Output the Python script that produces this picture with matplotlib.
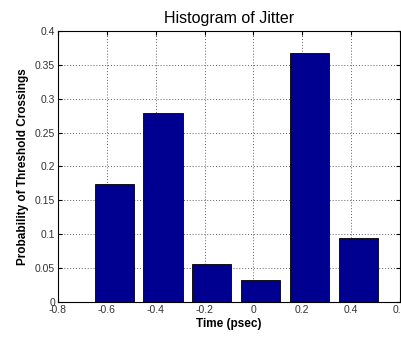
import matplotlib
matplotlib.use("Agg")
import matplotlib.pyplot as plt

centers = [-0.57, -0.37, -0.17, 0.03, 0.23, 0.43]
probs = [0.174, 0.279, 0.056, 0.0325, 0.367, 0.095]
xticks = [-0.8, -0.6, -0.4, -0.2, 0, 0.2, 0.4, 0.6]
xticklabels = ["-0.8", "-0.6", "-0.4", "-0.2", "0", "0.2", "0.4", "0.6"]
yticks = [0, 0.05, 0.1, 0.15, 0.2, 0.25, 0.3, 0.35, 0.4]
yticklabels = ["0", "0.05", "0.1", "0.15", "0.2", "0.25", "0.3", "0.35", "0.4"]

plt.rcParams['font.family'] = ['Liberation Sans', 'DejaVu Sans']
fig = plt.figure(figsize=(4.01, 3.39), dpi=100)
ax = fig.add_axes([0.1446, 0.1091, 0.8529, 0.7995])
ax.bar(centers, probs, width=0.16, color='#000090', edgecolor='black', linewidth=0.6, zorder=3)
ax.set_xlim(-0.8, 0.6)
ax.set_ylim(0, 0.4)
ax.set_xticks(xticks)
ax.set_xticklabels(xticklabels)
ax.set_yticks(yticks)
ax.set_yticklabels(yticklabels)
ax.grid(True, linestyle=(0, (1, 2)), color='#606060', linewidth=0.7, zorder=0)
ax.tick_params(direction='in', length=3, labelsize=7.5, colors='black', top=True, right=True, pad=2)
for lbl in ax.get_xticklabels() + ax.get_yticklabels():
    lbl.set_color('#333333')
for s in ax.spines.values():
    s.set_linewidth(0.8)
ax.set_title("Histogram of Jitter", fontsize=11.5, pad=6)
ax.set_xlabel("Time (psec)", fontsize=8.5, fontweight='bold', labelpad=2)
ax.set_ylabel("Probability of Threshold Crossings", fontsize=8.5, fontweight='bold', labelpad=4)
fig.savefig("out.png", dpi=100)
